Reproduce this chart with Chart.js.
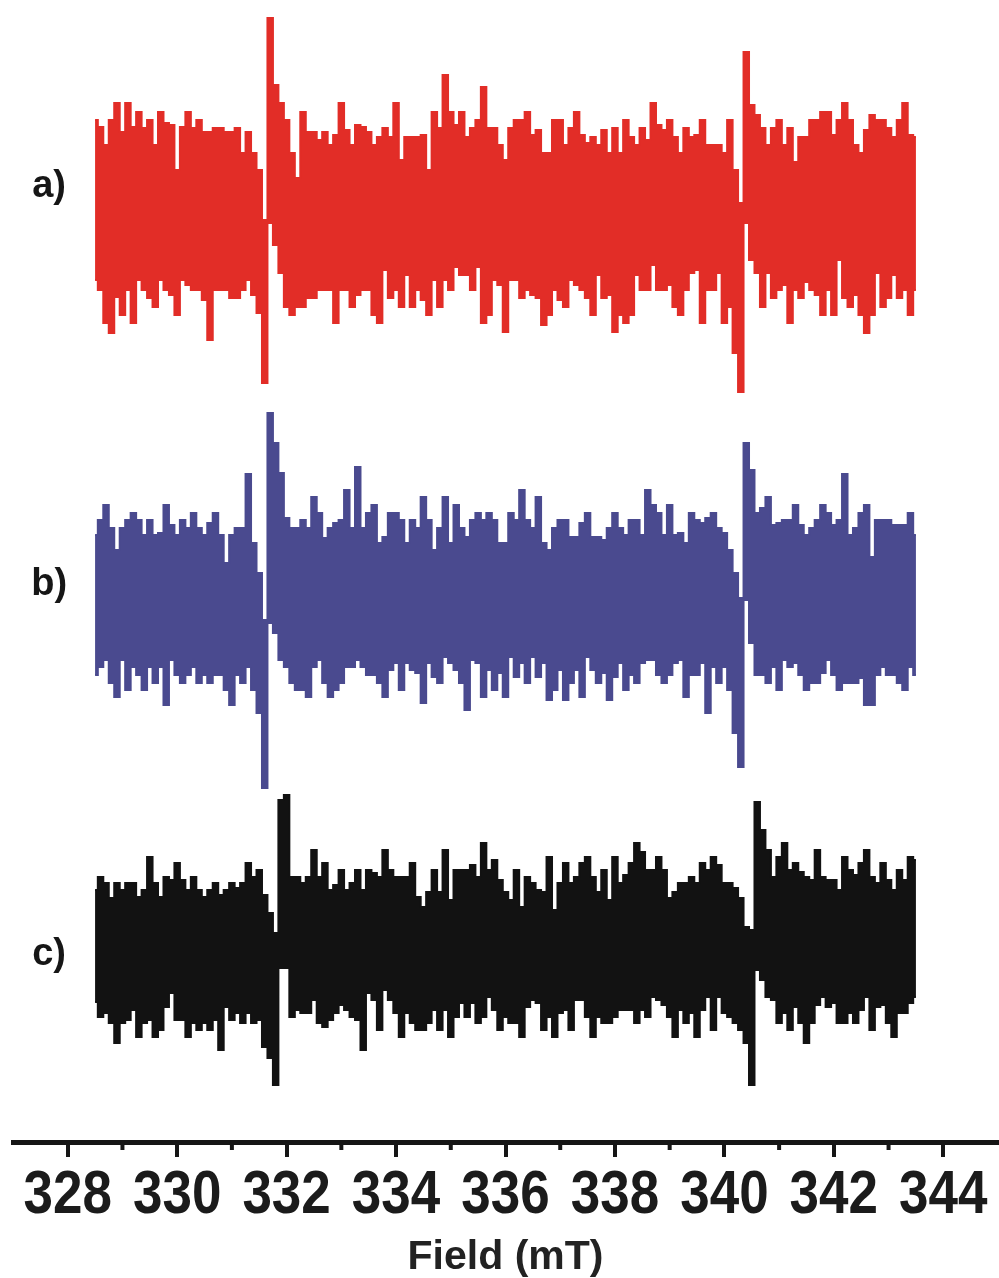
<!DOCTYPE html>
<html>
<head>
<meta charset="utf-8">
<title>EPR spectra a) b) c)</title>
<script src="https://cdn.jsdelivr.net/npm/chart.js@4.4.0/dist/chart.umd.min.js"></script>
<style>
  html, body { margin: 0; padding: 0; background: #fff; }
  #wrap { width: 999px; height: 1278px; position: relative; }
</style>
</head>
<body>
<div id="wrap"><canvas id="epr"></canvas></div>
<script>
// field axis, mT
const fieldStart = 328.5;
const fieldStep = 0.1;
const majorTicks = [328, 330, 332, 334, 336, 338, 340, 342, 344];
const minorTicks = [329, 331, 333, 335, 337, 339, 341, 343];

const traceNames = ['a)', 'b)', 'c)'];
// baselines of the stacked traces (same units as the intensities)
const traceOffsets = [927, 539, 192];
const labelLevels = [955, 557, 187];
const labelField = 327.66;

// upper / lower envelope of each noisy trace (arb. units)
const redTop = [
  95, 88, 70, 95, 112, 83, 112, 88, 103, 87,
  95, 70, 103, 92, 90, 45, 88, 103, 87, 95,
  83, 83, 87, 87, 83, 83, 87, 62, 83, 62,
  45, -5, 197, 130, 112, 95, 62, 37, 103, 83,
  83, 75, 83, 70, 80, 112, 85, 70, 90, 88,
  83, 70, 78, 87, 78, 112, 55, 78, 78, 78,
  80, 45, 103, 87, 140, 103, 90, 103, 78, 87,
  95, 128, 87, 87, 70, 55, 87, 95, 95, 103,
  80, 85, 62, 62, 95, 95, 70, 87, 103, 80,
  72, 78, 70, 85, 62, 87, 62, 95, 78, 70,
  87, 75, 112, 90, 85, 95, 78, 62, 87, 78,
  80, 95, 70, 70, 70, 62, 95, 45, 12, 163,
  110, 100, 87, 70, 87, 95, 70, 87, 53, 78,
  78, 95, 95, 103, 103, 80, 95, 112, 95, 70,
  62, 85, 100, 95, 95, 87, 78, 95, 112, 80, 78
];
const redBottom = [
  -65, -75, -108, -118, -82, -100, -75, -108, -65, -75,
  -83, -92, -65, -75, -80, -100, -65, -70, -75, -75,
  -85, -125, -75, -75, -75, -83, -83, -75, -65, -80,
  -98, -168, -8, -30, -58, -92, -100, -92, -92, -83,
  -83, -75, -75, -75, -108, -75, -75, -92, -80, -75,
  -75, -100, -108, -55, -83, -75, -92, -60, -92, -75,
  -85, -100, -65, -92, -65, -75, -52, -60, -60, -75,
  -52, -108, -100, -65, -70, -117, -65, -65, -83, -75,
  -80, -83, -110, -100, -75, -85, -92, -65, -70, -75,
  -83, -100, -60, -83, -80, -117, -100, -108, -100, -60,
  -75, -75, -50, -75, -75, -70, -92, -100, -75, -58,
  -55, -108, -75, -75, -58, -108, -92, -138, -177, -8,
  -45, -58, -92, -58, -83, -75, -70, -108, -75, -83,
  -67, -75, -80, -100, -75, -100, -45, -83, -92, -80,
  -100, -118, -100, -58, -92, -83, -60, -83, -75, -100, -75
];
const blueTop = [
  68, 83, 98, 75, 53, 75, 83, 90, 83, 68,
  83, 68, 70, 98, 78, 68, 83, 75, 90, 75,
  68, 80, 90, 68, 40, 68, 75, 75, 129, 60,
  30, -17, 190, 160, 130, 85, 75, 75, 83, 75,
  106, 90, 65, 75, 80, 83, 113, 75, 136, 75,
  90, 98, 60, 66, 90, 90, 83, 60, 83, 75,
  106, 83, 53, 75, 106, 60, 98, 75, 66, 83,
  90, 83, 90, 83, 60, 60, 90, 83, 113, 83,
  75, 106, 60, 53, 75, 83, 83, 66, 66, 80,
  90, 66, 66, 63, 75, 90, 75, 68, 83, 83,
  68, 113, 98, 90, 68, 98, 68, 70, 60, 90,
  83, 80, 85, 90, 75, 70, 53, 30, 5, 160,
  133, 90, 95, 106, 78, 80, 83, 83, 98, 78,
  68, 75, 83, 98, 90, 78, 83, 129, 68, 75,
  90, 98, 46, 83, 83, 83, 78, 78, 78, 90, 68
];
const blueBottom = [
  -72, -64, -57, -80, -94, -57, -87, -64, -72, -87,
  -64, -80, -64, -102, -57, -72, -80, -72, -64, -80,
  -72, -80, -72, -72, -87, -102, -72, -80, -64, -87,
  -110, -185, -20, -30, -57, -64, -80, -87, -87, -94,
  -64, -57, -80, -94, -87, -80, -64, -64, -57, -64,
  -72, -72, -80, -94, -67, -60, -87, -60, -67, -70,
  -100, -60, -74, -80, -54, -60, -67, -80, -107, -57,
  -60, -94, -67, -87, -70, -94, -54, -74, -60, -80,
  -54, -74, -60, -97, -87, -67, -97, -80, -67, -94,
  -54, -67, -80, -70, -97, -74, -60, -87, -72, -80,
  -60, -57, -57, -72, -80, -72, -60, -57, -94, -72,
  -72, -60, -110, -64, -80, -64, -87, -130, -164, 3,
  -40, -72, -72, -80, -64, -87, -57, -64, -60, -72,
  -87, -80, -80, -70, -57, -72, -87, -80, -80, -80,
  -75, -102, -102, -72, -64, -72, -72, -80, -87, -64, -72
];
const blackTop = [
  60, 73, 67, 52, 67, 60, 67, 67, 53, 60,
  93, 67, 53, 73, 70, 87, 70, 60, 73, 60,
  53, 60, 67, 55, 60, 67, 62, 67, 87, 73,
  80, 55, 37, 17, 150, 155, 73, 73, 67, 73,
  100, 73, 87, 60, 65, 80, 60, 67, 80, 60,
  80, 77, 73, 100, 80, 73, 73, 73, 87, 53,
  43, 58, 80, 58, 100, 50, 80, 80, 80, 85,
  73, 107, 80, 90, 70, 58, 50, 80, 43, 73,
  67, 60, 58, 93, 40, 67, 87, 67, 73, 87,
  93, 73, 58, 80, 50, 93, 67, 75, 87, 107,
  98, 80, 80, 93, 80, 52, 58, 67, 67, 73,
  67, 87, 80, 93, 85, 67, 67, 62, 52, 23,
  20, 148, 120, 100, 73, 93, 107, 80, 87, 78,
  73, 70, 100, 73, 70, 70, 60, 93, 80, 75,
  87, 100, 73, 67, 87, 70, 60, 80, 70, 93, 90
];
const blackBottom = [
  -52, -67, -63, -73, -93, -73, -70, -60, -87, -73,
  -70, -87, -80, -57, -43, -70, -70, -87, -73, -80,
  -73, -80, -70, -100, -57, -70, -63, -73, -63, -73,
  -70, -97, -108, -135, -18, -18, -67, -60, -63, -63,
  -50, -73, -77, -70, -63, -55, -60, -67, -70, -100,
  -43, -50, -80, -40, -50, -63, -87, -63, -73, -80,
  -80, -73, -60, -80, -60, -87, -67, -53, -67, -53,
  -73, -67, -47, -60, -80, -67, -73, -73, -87, -57,
  -50, -53, -80, -67, -87, -63, -60, -80, -50, -50,
  -67, -87, -67, -73, -73, -67, -60, -60, -60, -73,
  -60, -67, -47, -50, -55, -67, -87, -60, -73, -63,
  -87, -60, -47, -80, -47, -63, -67, -73, -80, -93,
  -135, -20, -30, -47, -50, -73, -63, -80, -57, -73,
  -93, -73, -55, -47, -57, -53, -73, -73, -63, -73,
  -60, -47, -80, -57, -55, -73, -87, -63, -63, -53, -47
];

const traceColors = ['#e22d27', '#4a4a8f', '#121212'];
const tops = [redTop, blueTop, blackTop];
const bottoms = [redBottom, blueBottom, blackBottom];

function envelope(values, offset) {
  return values.map((v, i) => ({ x: fieldStart + i * fieldStep, y: offset + v }));
}

const datasets = [];
tops.forEach((t, i) => {
  datasets.push({
    label: traceNames[i] + ' max',
    data: envelope(t, traceOffsets[i]),
    borderColor: traceColors[i],
    backgroundColor: traceColors[i],
    borderWidth: 2,
    stepped: 'middle',
    pointRadius: 0,
    fill: '+1'
  });
  datasets.push({
    label: traceNames[i] + ' min',
    data: envelope(bottoms[i], traceOffsets[i]),
    borderColor: traceColors[i],
    backgroundColor: traceColors[i],
    borderWidth: 2,
    stepped: 'middle',
    pointRadius: 0,
    fill: false
  });
});

// short ticks between the labelled ones
const minorTickPlugin = {
  id: 'minorTicks',
  afterDraw(chart) {
    const xs = chart.scales.x, ctx = chart.ctx;
    ctx.save();
    ctx.strokeStyle = '#151515';
    ctx.lineWidth = 4;
    minorTicks.forEach(v => {
      const px = xs.getPixelForValue(v);
      ctx.beginPath();
      ctx.moveTo(px, xs.top);
      ctx.lineTo(px, xs.top + 8);
      ctx.stroke();
    });
    ctx.restore();
  }
};

// tick numbers: the figure uses tall, narrow digits, so stretch them a bit vertically
const tickLabelPlugin = {
  id: 'tickLabels',
  afterDraw(chart) {
    const xs = chart.scales.x, ctx = chart.ctx;
    ctx.save();
    ctx.fillStyle = '#1b1b1b';
    ctx.font = 'bold 53px "Liberation Sans", Arial, sans-serif';
    ctx.textAlign = 'center';
    ctx.textBaseline = 'alphabetic';
    ctx.translate(0, xs.top + 71);
    ctx.scale(1, 1.14);
    majorTicks.forEach(v => ctx.fillText(String(v), xs.getPixelForValue(v), 0));
    ctx.restore();
  }
};

// a) b) c) labels on the left
const traceLabelPlugin = {
  id: 'traceLabels',
  afterDraw(chart) {
    const xs = chart.scales.x, ys = chart.scales.y, ctx = chart.ctx;
    ctx.save();
    ctx.fillStyle = '#161616';
    ctx.font = 'bold 38px "Liberation Sans", Arial, sans-serif';
    ctx.textAlign = 'center';
    ctx.textBaseline = 'middle';
    traceNames.forEach((name, i) => {
      ctx.fillText(name, xs.getPixelForValue(labelField), ys.getPixelForValue(labelLevels[i]));
    });
    ctx.restore();
  }
};

new Chart(document.getElementById('epr'), {
  type: 'line',
  data: { datasets: datasets },
  plugins: [minorTickPlugin, tickLabelPlugin, traceLabelPlugin],
  options: {
    responsive: true,
    maintainAspectRatio: false,
    animation: false,
    layout: { padding: { left: 13, right: 1, top: 0, bottom: 0 } },
    plugins: {
      legend: { display: false },
      tooltip: { enabled: false }
    },
    scales: {
      x: {
        type: 'linear',
        min: 327,
        max: 345,
        afterBuildTicks: s => { s.ticks = majorTicks.map(v => ({ value: v })); },
        afterFit: s => { s.height = 136; },
        border: { display: true, width: 5, color: '#151515' },
        grid: { drawOnChartArea: false, drawTicks: true, tickLength: 15, lineWidth: 4, tickWidth: 4, tickColor: '#151515' },
        ticks: { display: false },
        title: {
          display: true,
          text: 'Field (mT)',
          color: '#222',
          padding: { top: 0, bottom: 0 },
          font: { family: '"Liberation Sans", Arial, sans-serif', size: 41, weight: 'bold', lineHeight: 1 }
        }
      },
      y: { display: false, min: 0, max: 1142 }
    }
  }
});
</script>
</body>
</html>
